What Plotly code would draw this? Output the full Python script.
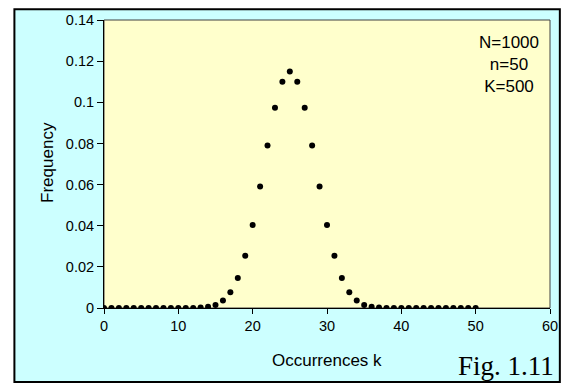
import plotly.graph_objects as go

k_values = list(range(0, 51))
frequency = [
    0, 0, 0, 0, 0, 0, 0, 0, 0, 0,
    0.00001, 0.00002, 0.00005, 0.0002, 0.0006, 0.0015, 0.0037, 0.0077, 0.0146, 0.0254,
    0.0403, 0.0591, 0.0790, 0.0974, 0.1100, 0.1150, 0.1100, 0.0974, 0.0790, 0.0591,
    0.0403, 0.0254, 0.0146, 0.0077, 0.0037, 0.0015, 0.0006, 0.0002, 0.00005, 0.00002,
    0.00001, 0, 0, 0, 0, 0, 0, 0, 0, 0, 0,
]
x_ticks = [0, 10, 20, 30, 40, 50, 60]
y_ticks = [0, 0.02, 0.04, 0.06, 0.08, 0.1, 0.12, 0.14]
y_tick_labels = ["0", "0.02", "0.04", "0.06", "0.08", "0.1", "0.12", "0.14"]

W, H = 570, 385
L, R, T, B = 104, 13, 16, 77
pw, ph = W - L - R, H - T - B

def px_x(x):
    return (x - L) / pw

def px_y(y):
    return (H - B - y) / ph

fig = go.Figure()
fig.add_trace(go.Scatter(
    x=k_values, y=frequency, mode="markers",
    marker=dict(color="black", size=6),
    showlegend=False,
))

font = "Liberation Sans, Arial, sans-serif"
fig.update_layout(
    width=W, height=H,
    margin=dict(l=L, r=R, t=T, b=B),
    paper_bgcolor="white",
    plot_bgcolor="#FFFFCC",
    font=dict(family=font, size=15, color="black"),
    xaxis=dict(
        range=[0, 60], tickvals=x_ticks, showgrid=False, zeroline=False,
        showline=True, linecolor="black", linewidth=1,
        ticks="outside", ticklen=5, tickcolor="black",
        tickfont=dict(size=14.5),
    ),
    yaxis=dict(
        range=[0, 0.14], tickvals=y_ticks, ticktext=y_tick_labels,
        showgrid=False, zeroline=False,
        showline=True, linecolor="black", linewidth=1,
        ticks="outside", ticklen=6, tickcolor="black",
        tickfont=dict(size=14.5),
    ),
    shapes=[
        dict(type="rect", xref="paper", yref="paper",
             x0=px_x(13), x1=px_x(567), y0=px_y(383), y1=px_y(5),
             fillcolor="#CCFFFF", line=dict(color="black", width=2), layer="below"),
        dict(type="rect", xref="paper", yref="paper",
             x0=0, x1=1, y0=0, y1=1,
             fillcolor="#FFFFCC", line=dict(color="#404040", width=1), layer="below"),
    ],
    annotations=[
        dict(text="Occurrences k", xref="paper", yref="paper",
             x=px_x(331), y=px_y(361), xanchor="center", yanchor="middle",
             showarrow=False, font=dict(size=17)),
        dict(text="Frequency", xref="paper", yref="paper",
             x=px_x(46), y=px_y(160), xanchor="center", yanchor="middle",
             textangle=-90, showarrow=False, font=dict(size=17)),
        dict(text="N=1000<br>n=50<br>K=500", xref="paper", yref="paper",
             x=px_x(515), y=px_y(27), xanchor="center", yanchor="top",
             showarrow=False, align="center", font=dict(size=17)),
        dict(text="Fig. 1.11", xref="paper", yref="paper",
             x=px_x(563), y=px_y(384), xanchor="right", yanchor="bottom",
             showarrow=False, font=dict(family="Liberation Serif, Times New Roman, serif", size=27)),
    ],
)

fig.write_html("out.html")
